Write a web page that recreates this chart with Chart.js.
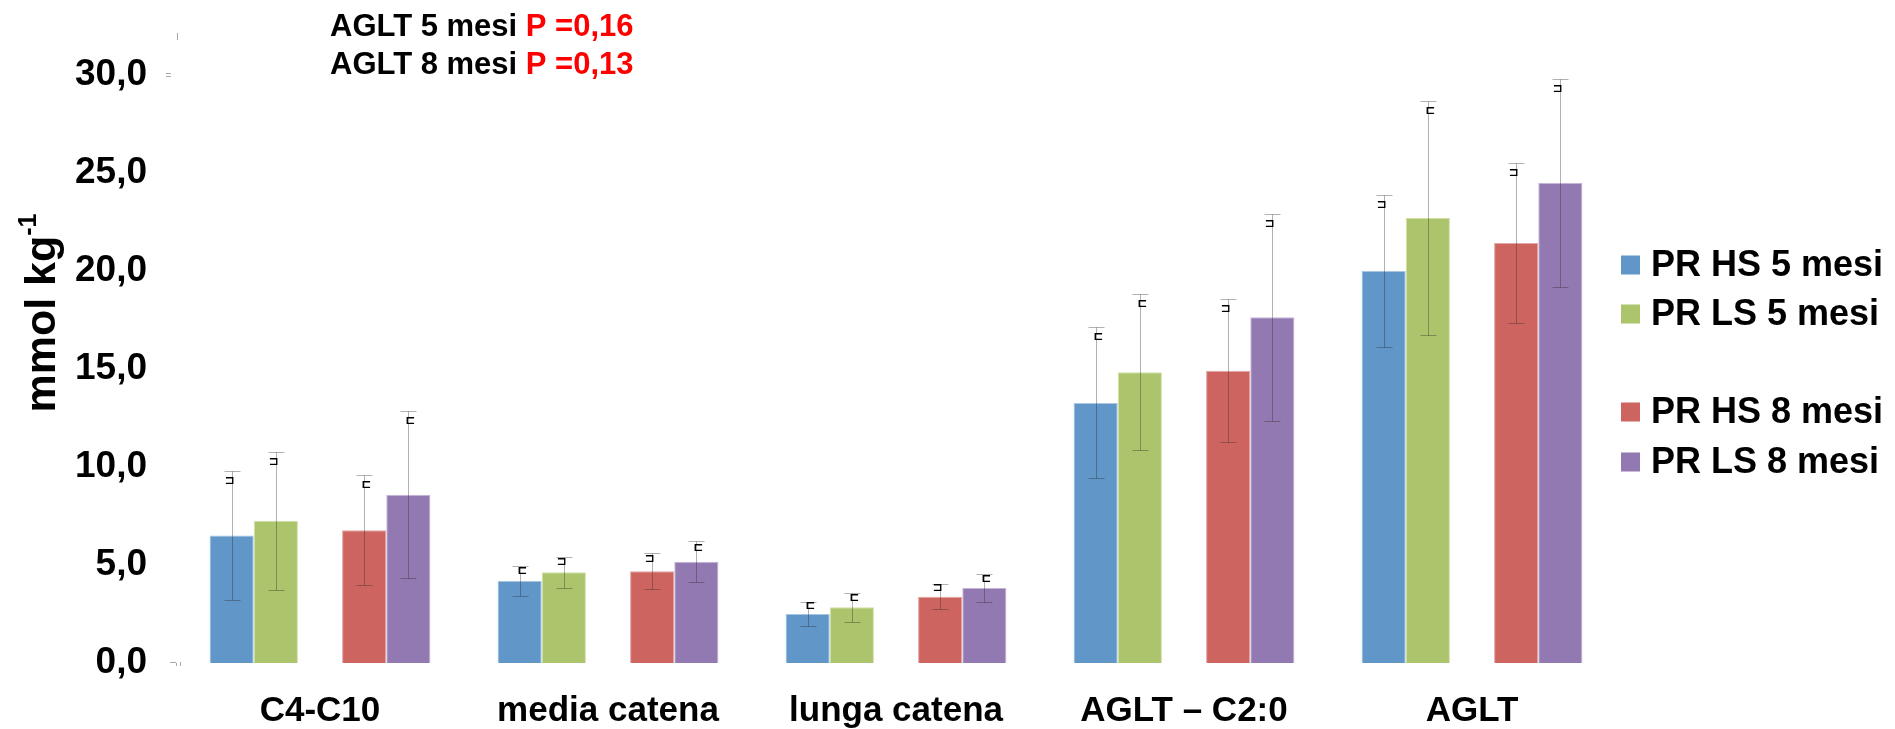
<!DOCTYPE html>
<html>
<head>
<meta charset="utf-8">
<script src="https://cdn.jsdelivr.net/npm/chart.js@4/dist/chart.umd.min.js"></script>
<style>
  html, body { margin: 0; padding: 0; background: #ffffff; }
  #wrap { width: 1895px; height: 729px; }
</style>
</head>
<body>
<div id="wrap"><canvas id="c" width="1895" height="729"></canvas></div>
<script>
// Acid groups on the x axis
const categories = ['C4-C10', 'media catena', 'lunga catena', 'AGLT \u2013 C2:0', 'AGLT'];

// Means (mmol kg-1)
const hs5 = [6.50, 4.18, 2.50, 13.27, 20.00];
const ls5 = [7.26, 4.63, 2.84, 14.83, 22.70];
const hs8 = [6.77, 4.68, 3.38, 14.91, 21.43];
const ls8 = [8.59, 5.17, 3.83, 17.64, 24.49];

// Standard deviations
const hs5Sd = [3.30, 0.75, 0.60, 3.85, 3.88];
const ls5Sd = [3.52, 0.80, 0.74, 3.98, 5.95];
const hs8Sd = [2.80, 0.92, 0.65, 3.65, 4.07];
const ls8Sd = [4.25, 1.05, 0.70, 5.28, 5.33];

// Small marks printed beside each error bar
const hs5Mark = ['\u2290', '\u228F', '\u228F', '\u228F', '\u2290'];
const ls5Mark = ['\u2290', '\u2290', '\u228F', '\u228F', '\u228F'];
const hs8Mark = ['\u228F', '\u2290', '\u2290', '\u2290', '\u2290'];
const ls8Mark = ['\u228F', '\u228F', '\u228F', '\u2290', '\u2290'];

// Series names
const seriesNames = ['PR HS 5 mesi', 'PR LS 5 mesi', '', 'PR HS 8 mesi', 'PR LS 8 mesi'];

// y axis ticks
const yTicks = [0, 5, 10, 15, 20, 25, 30];

// Note lines at the top
const noteLines = [
  ['AGLT 5 mesi ', 'P =0,16'],
  ['AGLT 8 mesi ', 'P =0,13']
];

const colors = ['#6096c8', '#acc46c', '#cd645f', '#9379b1'];
const edges  = ['#a9c5e2', '#cfe0a6', '#e3a5a2', '#c4b5d8'];
const FONT = '"Liberation Sans", Arial, sans-serif';

const series = [
  { label: seriesNames[0], data: hs5, sd: hs5Sd, mark: hs5Mark, bg: colors[0], edge: edges[0] },
  { label: seriesNames[1], data: ls5, sd: ls5Sd, mark: ls5Mark, bg: colors[1], edge: edges[1] },
  { label: seriesNames[2], data: categories.map(() => null), sd: null, mark: null, bg: 'rgba(0,0,0,0)', edge: 'rgba(0,0,0,0)' },
  { label: seriesNames[3], data: hs8, sd: hs8Sd, mark: hs8Mark, bg: colors[2], edge: edges[2] },
  { label: seriesNames[4], data: ls8, sd: ls8Sd, mark: ls8Mark, bg: colors[3], edge: edges[3] }
];

const datasets = series.map(s => ({
  label: s.label,
  data: s.data,
  backgroundColor: s.bg,
  borderColor: s.edge,
  borderWidth: 1,
  sdValues: s.sd,
  marks: s.mark
}));

// Error bars and their marks
const errorBars = {
  id: 'errorBars',
  afterDatasetsDraw(chart) {
    const ctx = chart.ctx;
    const y = chart.scales.y;
    chart.data.datasets.forEach((ds, di) => {
      if (!ds.sdValues) return;
      const meta = chart.getDatasetMeta(di);
      meta.data.forEach((bar, i) => {
        const v = ds.data[i], sd = ds.sdValues[i];
        if (v == null) return;
        const x = Math.round(bar.x) + 0.5;
        const yTop = Math.round(y.getPixelForValue(v + sd)) + 0.5;
        const yBot = Math.round(y.getPixelForValue(v - sd)) + 0.5;
        ctx.save();
        ctx.strokeStyle = 'rgba(40,40,40,0.36)';
        ctx.lineWidth = 1;
        ctx.beginPath();
        ctx.moveTo(x, yTop); ctx.lineTo(x, yBot);
        ctx.moveTo(x - 8, yTop); ctx.lineTo(x + 8, yTop);
        ctx.moveTo(x - 8, yBot); ctx.lineTo(x + 8, yBot);
        ctx.stroke();
        // mark below the upper cap
        const m = ds.marks[i];
        const sdPx = y.getPixelForValue(v) - y.getPixelForValue(v + sd);
        const my = yTop + Math.min(9.5, sdPx * 0.3);
        ctx.font = 'bold 12px "DejaVu Sans", sans-serif';
        ctx.fillStyle = '#000000';
        ctx.textBaseline = 'middle';
        if (m === '\u2290') { ctx.textAlign = 'right'; ctx.fillText(m, x + 2, my); }
        else { ctx.textAlign = 'left'; ctx.fillText(m, x - 3, my); }
        ctx.restore();
      });
    });
  }
};

// Category names, axis title, legend and notes
const decorations = {
  id: 'decorations',
  afterDraw(chart) {
    const ctx = chart.ctx;
    const xs = chart.scales.x;
    const ys = chart.scales.y;
    ctx.save();

    // category labels
    ctx.font = 'bold 35px ' + FONT;
    ctx.fillStyle = '#000000';
    ctx.textAlign = 'center';
    ctx.textBaseline = 'middle';
    categories.forEach((c, i) => {
      ctx.fillText(c, xs.getPixelForValue(i), 711);
    });

    // small axis remnants
    ctx.strokeStyle = '#a8a8a8';
    ctx.lineWidth = 1;
    const y30 = Math.round(ys.getPixelForValue(30));
    const y0 = Math.round(ys.getPixelForValue(0));
    ctx.beginPath();
    ctx.moveTo(166, y30 - 1.5); ctx.lineTo(171, y30 - 1.5);
    ctx.moveTo(166, y30 + 1.5); ctx.lineTo(171, y30 + 1.5);
    ctx.moveTo(177.5, 33); ctx.lineTo(177.5, 40);
    ctx.moveTo(170, y0 - 0.5); ctx.lineTo(176, y0 - 0.5);
    ctx.moveTo(176.5, y0); ctx.lineTo(176.5, y0 + 3);
    ctx.moveTo(180.5, y0 - 1); ctx.lineTo(180.5, y0 + 3);
    ctx.stroke();

    // y axis title with superscript
    ctx.save();
    ctx.translate(43, 313);
    ctx.rotate(-Math.PI / 2);
    ctx.fillStyle = '#000000';
    ctx.textBaseline = 'middle';
    ctx.font = 'bold 43px ' + FONT;
    const main = 'mmol kg';
    const wMain = ctx.measureText(main).width;
    ctx.font = 'bold 25px ' + FONT;
    const sup = '-1';
    const wSup = ctx.measureText(sup).width;
    const start = -(wMain + wSup) / 2;
    ctx.textAlign = 'left';
    ctx.font = 'bold 43px ' + FONT;
    ctx.fillText(main, start, 0);
    ctx.font = 'bold 25px ' + FONT;
    ctx.fillText(sup, start + wMain, -14);
    ctx.restore();

    // legend
    const rows = [265, 314, 363, 412, 462];
    ctx.font = 'bold 36px ' + FONT;
    ctx.textAlign = 'left';
    ctx.textBaseline = 'middle';
    chart.data.datasets.forEach((ds, i) => {
      if (!ds.label) return;
      ctx.fillStyle = ds.backgroundColor;
      ctx.fillRect(1621, rows[i] - 9.5, 19, 19);
      ctx.fillStyle = '#000000';
      ctx.fillText(ds.label, 1651, rows[i] + 1);
    });

    // notes
    ctx.font = 'bold 31px ' + FONT;
    noteLines.forEach((ln, i) => {
      const ly = 27 + i * 38;
      ctx.fillStyle = '#000000';
      ctx.fillText(ln[0], 330, ly);
      const w = ctx.measureText(ln[0]).width;
      ctx.fillStyle = '#ff0000';
      ctx.fillText(ln[1], 330 + w, ly);
    });

    ctx.restore();
  }
};

new Chart(document.getElementById('c'), {
  type: 'bar',
  data: { labels: categories, datasets: datasets },
  options: {
    responsive: false,
    animation: false,
    layout: { padding: { top: 75, bottom: 66, right: 279, left: 0 } },
    plugins: {
      legend: { display: false },
      tooltip: { enabled: false }
    },
    datasets: {
      bar: { categoryPercentage: 0.767, barPercentage: 1.0 }
    },
    scales: {
      x: {
        display: false,
        grid: { display: false }
      },
      y: {
        min: 0,
        max: 30,
        afterFit(scale) { scale.width = 176; },
        afterBuildTicks(scale) { scale.ticks = yTicks.map(v => ({ value: v })); },
        grid: { display: false, drawTicks: false },
        border: { display: false },
        ticks: {
          padding: 29,
          color: '#000000',
          font: { family: FONT, size: 37, weight: 'bold' },
          callback: v => v.toFixed(1).replace('.', ',')
        }
      }
    }
  },
  plugins: [errorBars, decorations]
});
</script>
</body>
</html>
